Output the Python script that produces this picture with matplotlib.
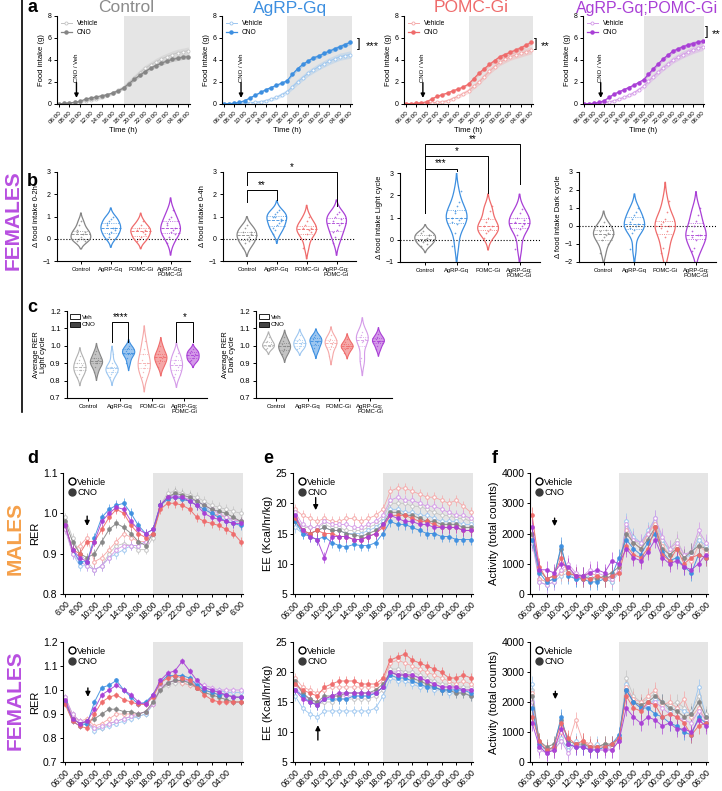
import numpy as np
import matplotlib
matplotlib.use("Agg")
import matplotlib.pyplot as plt
from matplotlib.lines import Line2D
from matplotlib.patches import Patch

plt.rcParams['font.family'] = ['Liberation Sans', 'DejaVu Sans']
plt.rcParams['axes.linewidth'] = 0.8

W, H = 722, 791

# ---------------- données ----------------
groups = ["Control", "AgRP-Gq", "POMC-Gi", "AgRP-Gq;POMC-Gi"]
group_ticks = ["Control", "AgRP-Gq", "POMC-Gi", "AgRP-Gq;\nPOMC-Gi"]
dark = ["#858585", "#3d8fe0", "#ef6b6b", "#a93fd6"]
light = ["#c4c4c4", "#9cc6f0", "#f5a8a8", "#d49ae8"]

hours = list(range(25))

# a : prise alimentaire cumulée (g), horaire de 06:00 à 06:00
fi_ctrl_veh = [0, 0.05, 0.1, 0.15, 0.2, 0.3, 0.35, 0.45, 0.6, 0.8, 1.0, 1.25, 1.5, 1.95, 2.4, 2.85, 3.25, 3.55, 3.85, 4.1, 4.3, 4.5, 4.65, 4.75, 4.85]
fi_ctrl_cno = [0, 0.05, 0.1, 0.15, 0.25, 0.45, 0.55, 0.65, 0.75, 0.85, 1.0, 1.2, 1.45, 1.85, 2.25, 2.6, 2.95, 3.25, 3.5, 3.7, 3.9, 4.05, 4.15, 4.25, 4.3]
fi_agrp_veh = [0, 0.03, 0.06, 0.08, 0.1, 0.12, 0.15, 0.2, 0.3, 0.45, 0.6, 0.85, 1.1, 1.55, 2.0, 2.4, 2.8, 3.1, 3.4, 3.65, 3.9, 4.1, 4.3, 4.4, 4.5]
fi_agrp_cno = [0, 0.03, 0.06, 0.15, 0.3, 0.55, 0.8, 1.05, 1.3, 1.5, 1.7, 1.9, 2.1, 2.7, 3.2, 3.6, 3.9, 4.2, 4.35, 4.6, 4.8, 5.0, 5.2, 5.4, 5.6]
fi_pomc_veh = [0, 0.03, 0.06, 0.08, 0.1, 0.12, 0.15, 0.2, 0.3, 0.5, 0.7, 0.95, 1.2, 1.6, 2.0, 2.5, 3.0, 3.4, 3.8, 4.05, 4.3, 4.45, 4.6, 4.75, 4.9]
fi_pomc_cno = [0, 0.03, 0.06, 0.1, 0.2, 0.45, 0.7, 0.85, 1.0, 1.2, 1.35, 1.55, 1.8, 2.3, 2.8, 3.2, 3.6, 3.95, 4.3, 4.5, 4.7, 4.9, 5.1, 5.35, 5.6]
fi_pg_veh = [0, 0.03, 0.06, 0.1, 0.15, 0.2, 0.3, 0.45, 0.6, 0.8, 1.0, 1.3, 1.6, 2.05, 2.5, 2.9, 3.3, 3.65, 4.0, 4.25, 4.5, 4.7, 4.9, 5.05, 5.2]
fi_pg_cno = [0, 0.03, 0.06, 0.15, 0.3, 0.6, 0.9, 1.1, 1.3, 1.5, 1.7, 1.95, 2.2, 2.7, 3.2, 3.65, 4.1, 4.45, 4.8, 5.0, 5.2, 5.35, 5.5, 5.6, 5.7]
fi_sem = [0.02, 0.03, 0.05, 0.07, 0.09, 0.1, 0.12, 0.14, 0.15, 0.17, 0.19, 0.2, 0.22, 0.24, 0.26, 0.27, 0.28, 0.29, 0.3, 0.31, 0.32, 0.32, 0.33, 0.33, 0.34]
fi_veh = [fi_ctrl_veh, fi_agrp_veh, fi_pomc_veh, fi_pg_veh]
fi_cno = [fi_ctrl_cno, fi_agrp_cno, fi_pomc_cno, fi_pg_cno]

# b : delta prise alimentaire (CNO - Veh), par souris
b_0_2h = [[-0.1, 0.0, 0.1, 0.2, 0.3, 0.3, 0.6, 0.8, 0.0, -0.1, 0.4],
          [0.0, 0.2, 0.3, 0.5, 0.5, 0.6, 0.8, 0.9, 1.0, 0.4, 0.7, 0.1],
          [-0.1, 0.0, 0.1, 0.3, 0.4, 0.4, 0.5, 0.6, 0.8, 0.2],
          [-0.2, 0.1, 0.3, 0.4, 0.5, 0.6, 0.9, 1.0, 1.3, 0.2, 0.7]]
b_0_4h = [[-0.4, -0.2, 0.0, 0.1, 0.2, 0.3, 0.5, 0.6, -0.1, 0.3],
          [0.2, 0.4, 0.6, 0.7, 0.8, 1.0, 1.1, 1.2, 1.3, 0.9, 0.5, 1.0],
          [-0.4, 0.0, 0.2, 0.4, 0.5, 0.5, 0.6, 0.8, 1.0, 0.3],
          [-0.2, 0.1, 0.4, 0.6, 0.7, 0.8, 1.0, 1.1, 1.2, 0.9, 0.3]]
b_light = [[-0.3, -0.1, 0.0, 0.1, 0.2, 0.3, 0.4, 0.0, -0.2, 0.2],
           [-0.3, 0.3, 0.7, 0.9, 1.0, 1.0, 1.2, 1.5, 1.7, 2.2, 0.8, 1.3],
           [0.1, 0.3, 0.4, 0.5, 0.6, 0.6, 0.8, 1.0, 1.3, 1.5],
           [-0.4, 0.2, 0.5, 0.6, 0.7, 0.8, 1.0, 1.2, 1.4, 0.9]]
b_dark = [[-1.5, -0.8, -0.6, -0.5, -0.4, -0.3, 0.0, 0.2, -0.2, -1.0],
          [-1.3, -0.4, -0.2, 0.0, 0.1, 0.2, 0.4, 0.6, 0.8, 1.0, -0.1],
          [-1.5, -1.2, -0.6, -0.3, 0.0, 0.1, 0.2, 0.4, 0.8, 1.4, -0.1],
          [-1.4, -1.2, -0.8, -0.5, -0.5, -0.3, 0.0, 0.3, 0.6, 1.0, -0.6]]

# c : RER moyen, Veh puis CNO pour chaque génotype
rer_light = [[0.82, 0.84, 0.86, 0.88, 0.89, 0.90, 0.92, 0.94, 0.86],
             [0.85, 0.88, 0.90, 0.91, 0.92, 0.93, 0.95, 0.97, 0.90],
             [0.82, 0.84, 0.85, 0.86, 0.87, 0.87, 0.88, 0.90, 0.95],
             [0.90, 0.93, 0.95, 0.96, 0.96, 0.97, 0.98, 0.99, 1.00],
             [0.82, 0.85, 0.87, 0.89, 0.90, 0.92, 0.95, 0.98, 1.03],
             [0.88, 0.90, 0.92, 0.93, 0.94, 0.95, 0.97, 1.00],
             [0.82, 0.84, 0.86, 0.88, 0.89, 0.90, 0.92, 0.94, 0.96],
             [0.91, 0.92, 0.93, 0.94, 0.95, 0.96, 0.97, 0.98]]
rer_dark = [[0.98, 0.99, 1.00, 1.00, 1.01, 1.02, 1.03, 1.05],
            [0.95, 0.97, 0.98, 1.00, 1.00, 1.01, 1.03, 1.05],
            [0.98, 0.99, 1.00, 1.01, 1.02, 1.03, 1.04, 1.06],
            [0.97, 0.99, 1.01, 1.02, 1.03, 1.04, 1.05, 1.06],
            [0.94, 0.98, 1.00, 1.01, 1.02, 1.03, 1.04, 1.06],
            [0.96, 0.98, 0.99, 1.00, 1.00, 1.01, 1.02, 1.04],
            [0.91, 0.93, 1.02, 1.03, 1.04, 1.05, 1.06, 1.08],
            [0.98, 1.00, 1.02, 1.03, 1.03, 1.04, 1.05, 1.07]]

# d-f : calorimétrie, valeurs horaires 06:00 -> 06:00 (Control, AgRP-Gq, POMC-Gi, AgRP-Gq;POMC-Gi)
m_rer_cno = [[0.98, 0.93, 0.90, 0.89, 0.90, 0.93, 0.96, 0.975, 0.965, 0.95, 0.93, 0.92, 0.95, 1.02, 1.04, 1.05, 1.045, 1.04, 1.03, 1.02, 1.01, 1.005, 1.0, 0.99, 0.98],
             [0.97, 0.91, 0.88, 0.88, 0.94, 0.99, 1.01, 1.02, 1.025, 1.0, 0.97, 0.95, 0.96, 1.02, 1.035, 1.04, 1.035, 1.03, 1.02, 1.01, 1.0, 0.99, 0.98, 0.975, 0.97],
             [0.97, 0.91, 0.90, 0.93, 0.93, 0.96, 0.99, 1.01, 1.0, 0.97, 0.95, 0.94, 0.95, 1.01, 1.025, 1.025, 1.02, 1.01, 0.99, 0.98, 0.975, 0.97, 0.96, 0.95, 0.93],
             [0.97, 0.91, 0.89, 0.88, 0.93, 0.98, 1.0, 1.015, 1.01, 0.98, 0.96, 0.95, 0.96, 1.02, 1.04, 1.04, 1.04, 1.03, 1.02, 1.0, 0.99, 0.985, 0.98, 0.975, 0.975]]
m_rer_veh = [[0.99, 0.94, 0.90, 0.88, 0.86, 0.87, 0.90, 0.92, 0.925, 0.92, 0.91, 0.91, 0.94, 1.02, 1.05, 1.055, 1.05, 1.045, 1.04, 1.03, 1.02, 1.015, 1.01, 1.005, 1.0],
             [0.97, 0.90, 0.87, 0.87, 0.86, 0.87, 0.89, 0.90, 0.91, 0.92, 0.92, 0.93, 0.95, 1.02, 1.04, 1.045, 1.04, 1.035, 1.03, 1.02, 1.0, 0.995, 0.99, 0.98, 0.98],
             [0.97, 0.91, 0.92, 0.94, 0.88, 0.89, 0.91, 0.93, 0.95, 0.94, 0.93, 0.93, 0.95, 1.02, 1.035, 1.04, 1.035, 1.03, 1.02, 1.01, 1.0, 0.995, 0.99, 0.985, 0.98],
             [0.96, 0.90, 0.88, 0.87, 0.86, 0.87, 0.89, 0.91, 0.92, 0.92, 0.92, 0.93, 0.95, 1.02, 1.04, 1.045, 1.04, 1.035, 1.03, 1.02, 1.01, 1.0, 0.99, 0.985, 0.98]]
m_ee_cno = [[17, 15.5, 15, 15.5, 16, 15.5, 15.5, 15, 14.8, 14.5, 15, 15.5, 16.5, 18.5, 18.5, 18, 18, 17.5, 17, 17, 16.5, 16.5, 16.5, 16, 16],
            [17, 15, 14.5, 14.0, 14.5, 13.5, 13.0, 12.8, 13.2, 13.0, 13.0, 13.5, 15.0, 17.0, 16.5, 16.5, 16.0, 15.5, 15.0, 15.0, 14.5, 14.5, 14.0, 14.0, 14.0],
            [17.5, 15.5, 15, 15.5, 15, 15, 14.5, 14.5, 14, 14, 14.5, 15, 16, 18, 18, 18, 17.5, 17, 17, 16.5, 16, 16, 16, 15.5, 15.5],
            [18, 15.5, 14.5, 14, 11, 14.5, 14.5, 14.5, 14, 14, 14.5, 15, 16.5, 18, 17.5, 17, 17, 16.5, 16.5, 16, 16, 16, 16, 15.5, 15.5]]
m_ee_veh = [[18, 16, 16, 16, 16.5, 16, 16, 15.5, 15.5, 15.5, 16, 16.5, 17.5, 20, 20, 20, 19.5, 19.5, 19, 18.5, 18, 18, 17.5, 17.5, 17],
            [16, 15, 15, 15.5, 16, 15.5, 15.5, 15, 15, 15, 15.5, 16, 17, 19, 19, 18.5, 18.5, 18, 18, 17.5, 17, 17, 17, 16.5, 16.5],
            [19, 18, 17.5, 17, 17.5, 17, 17, 17.5, 17.5, 17, 17.5, 18, 19, 22, 22.5, 22.5, 22, 21.5, 21, 21, 20.5, 20, 20.5, 19.5, 18.5],
            [18.5, 16.5, 16, 16, 17, 16.5, 16.5, 16.5, 16, 16, 16.5, 17, 18, 20.5, 21, 20.5, 20.5, 20, 19.5, 19.5, 19, 18.5, 18, 18, 17.5]]
m_act_cno = [[2000, 800, 500, 600, 1500, 700, 600, 600, 500, 500, 600, 700, 900, 2000, 1700, 1500, 1800, 2200, 1500, 1300, 1500, 1200, 1400, 1600, 1500],
             [1800, 700, 400, 500, 1600, 600, 500, 500, 400, 400, 500, 600, 1200, 1800, 1500, 1300, 1700, 2000, 1400, 1100, 1200, 900, 700, 1300, 1200],
             [2600, 900, 500, 600, 1200, 700, 600, 500, 500, 600, 500, 600, 700, 1600, 1300, 1200, 1500, 2200, 1300, 1100, 1500, 1000, 1200, 1300, 1200],
             [2200, 800, 800, 700, 1000, 900, 600, 600, 700, 800, 700, 1100, 1000, 1500, 1200, 1100, 1400, 1800, 1200, 1000, 1100, 900, 800, 1000, 1300]]
m_act_veh = [[1800, 500, 400, 500, 700, 800, 600, 500, 700, 600, 500, 400, 800, 2200, 1800, 1600, 2000, 2400, 1700, 1500, 1800, 1300, 1400, 1900, 1400],
             [1900, 400, 300, 400, 600, 700, 500, 500, 600, 500, 500, 400, 700, 2400, 1900, 1700, 2100, 2500, 1800, 1400, 1600, 1200, 1300, 1800, 1600],
             [2000, 500, 400, 500, 700, 900, 600, 600, 700, 600, 500, 500, 700, 2100, 1700, 1500, 2000, 2300, 1600, 1300, 1600, 1200, 1100, 1600, 1400],
             [1700, 400, 300, 400, 800, 1000, 700, 600, 800, 700, 600, 500, 800, 2300, 1800, 1700, 2000, 2500, 1900, 1500, 1700, 1300, 1400, 2100, 1700]]

f_rer_cno = [[0.95, 0.88, 0.86, 0.87, 0.88, 0.90, 0.92, 0.92, 0.91, 0.91, 0.90, 0.91, 0.95, 1.0, 1.03, 1.04, 1.04, 1.03, 1.01, 0.99, 0.98, 0.97, 0.96, 0.95, 0.95],
             [0.95, 0.87, 0.85, 0.86, 0.95, 1.01, 1.02, 1.04, 1.0, 0.97, 0.94, 0.95, 0.98, 1.03, 1.06, 1.06, 1.06, 1.05, 1.02, 1.0, 0.99, 0.98, 0.98, 0.97, 0.97],
             [0.94, 0.87, 0.85, 0.84, 0.90, 0.95, 0.97, 0.98, 0.96, 0.95, 0.94, 0.94, 0.97, 1.03, 1.05, 1.06, 1.05, 1.04, 1.01, 0.98, 0.96, 0.95, 0.95, 0.95, 0.95],
             [0.96, 0.88, 0.86, 0.87, 0.92, 0.98, 1.0, 1.02, 1.0, 0.98, 0.95, 0.94, 0.98, 1.04, 1.07, 1.08, 1.12, 1.08, 1.04, 1.01, 1.0, 0.99, 0.98, 0.97, 0.97]]
f_rer_veh = [[0.97, 0.90, 0.87, 0.86, 0.84, 0.84, 0.86, 0.87, 0.88, 0.89, 0.89, 0.90, 0.94, 1.0, 1.02, 1.03, 1.03, 1.02, 1.01, 1.0, 0.99, 0.985, 0.98, 0.975, 0.97],
             [0.96, 0.89, 0.86, 0.86, 0.83, 0.84, 0.85, 0.86, 0.87, 0.88, 0.89, 0.90, 0.94, 1.01, 1.03, 1.04, 1.04, 1.03, 1.02, 1.01, 1.0, 1.0, 0.99, 0.99, 0.99],
             [0.96, 0.89, 0.87, 0.88, 0.85, 0.86, 0.88, 0.90, 0.90, 0.90, 0.90, 0.91, 0.94, 1.01, 1.03, 1.04, 1.03, 1.02, 1.01, 1.0, 0.99, 0.98, 0.98, 0.97, 0.97],
             [0.97, 0.90, 0.87, 0.87, 0.84, 0.85, 0.86, 0.87, 0.88, 0.89, 0.90, 0.91, 0.94, 1.01, 1.03, 1.04, 1.04, 1.04, 1.03, 1.02, 1.01, 1.0, 1.0, 1.0, 1.0]]
f_ee_cno = [[18.5, 16.5, 15.5, 15, 16, 16, 16, 16.5, 16.5, 16.5, 16.5, 17, 18, 20, 19.5, 19.5, 19, 18.5, 18, 17.5, 17, 17, 16.5, 16.5, 16],
            [17, 16, 15, 14.5, 15.5, 15.5, 15.5, 15.5, 16, 16, 16, 16.5, 17.5, 19.5, 19, 19, 18.5, 18, 17.5, 17.5, 17, 17, 17, 17, 16.5],
            [18, 17, 16.5, 16, 17.5, 18, 18.5, 18.5, 18.5, 18, 18, 18, 19, 22, 22.5, 23, 22, 21.5, 21, 20.5, 20, 19, 19, 19.5, 19],
            [17, 15.5, 15, 14.5, 15.5, 16, 16.5, 16.5, 16.5, 16.5, 16.5, 16.5, 17.5, 20, 19.5, 19.5, 19.5, 19, 18.5, 18, 17.5, 17.5, 17.5, 17, 17]]
f_ee_veh = [[18, 16.5, 15.5, 14.5, 15, 15, 15.5, 15.5, 15.5, 15.5, 15.5, 16, 17, 20.5, 20.5, 20, 20, 19.5, 19, 18.5, 18, 18, 17.5, 17.5, 17.5],
            [16, 14, 13, 12.5, 13.5, 13.5, 13.5, 13.5, 13.5, 13.5, 13.5, 14, 16, 19, 18.5, 18.5, 18, 17.5, 17.5, 17, 17, 16.5, 16.5, 16.5, 16],
            [19, 17.5, 17, 16.5, 17, 17.5, 17.5, 17.5, 17.5, 17.5, 17.5, 17.5, 18.5, 21.5, 22, 21.5, 21, 20.5, 20, 19.5, 19, 18.5, 18, 18.5, 18],
            [17.5, 16, 15.5, 15, 15.5, 16, 16, 16, 16, 16, 16, 16.5, 17.5, 20, 20, 19.5, 19.5, 19, 18.5, 18, 17.5, 17.5, 17, 17, 17]]
f_act_cno = [[2200, 700, 500, 600, 1400, 700, 600, 600, 500, 500, 600, 600, 800, 2400, 2000, 1900, 2000, 2200, 2000, 1800, 1700, 1500, 1600, 2000, 1500],
             [1800, 600, 400, 500, 1500, 600, 500, 500, 400, 400, 500, 600, 900, 2400, 2000, 1800, 1800, 1600, 1500, 1300, 1200, 1000, 900, 1500, 1300],
             [1500, 700, 400, 500, 1300, 800, 600, 700, 500, 500, 500, 600, 800, 2200, 1800, 1700, 2000, 1900, 1500, 1600, 1500, 1300, 900, 1200, 1300],
             [1300, 500, 300, 400, 1100, 600, 500, 500, 400, 400, 400, 400, 700, 1800, 1500, 1300, 1500, 1400, 1200, 1300, 1100, 1100, 1000, 1400, 1200]]
f_act_veh = [[2400, 500, 400, 400, 700, 500, 600, 700, 600, 500, 600, 500, 700, 2800, 2200, 2000, 2100, 2300, 2000, 1900, 2000, 1800, 1700, 2200, 1600],
             [2600, 500, 300, 500, 800, 400, 700, 500, 500, 600, 500, 500, 800, 2600, 2000, 1800, 1900, 2100, 2000, 1700, 1800, 1700, 1600, 2500, 1500],
             [2300, 600, 400, 400, 1000, 600, 1400, 700, 600, 500, 600, 500, 800, 2500, 2100, 2000, 2200, 2400, 1900, 2000, 1800, 2100, 1500, 1800, 1400],
             [2000, 400, 300, 400, 700, 300, 600, 500, 500, 400, 500, 400, 700, 2400, 2000, 1800, 1900, 2000, 1800, 1600, 1500, 1400, 1300, 1700, 1400]]

tick_hours = list(range(0, 25, 2))
lab_0 = ["06:00", "08:00", "10:00", "12:00", "14:00", "16:00", "18:00", "20:00", "22:00", "00:00", "02:00", "04:00", "06:00"]
lab_short = ["6:00", "8:00", "10:00", "12:00", "14:00", "16:00", "18:00", "20:00", "22:00", "0:00", "2:00", "4:00", "6:00"]
lab_no_end = lab_0[:-1] + [""]

SHADE = "#e5e5e5"

fig = plt.figure(figsize=(W / 100, H / 100), dpi=100)


def add_ax(l, t, r, b):
    ax = fig.add_axes([l / W, 1 - b / H, (r - l) / W, (b - t) / H])
    ax.spines['top'].set_visible(False)
    ax.spines['right'].set_visible(False)
    return ax


def ftext(x, y, s, **kw):
    fig.text(x / W, 1 - y / H, s, **kw)


def time_axis(ax, labels, fs):
    ax.set_xlim(-0.3, 24.3)
    ax.set_xticks(tick_hours)
    ax.set_xticklabels(labels, rotation=45, ha='right', rotation_mode='anchor', fontsize=fs)
    ax.tick_params(length=2.5, width=0.7, pad=1.5)


def violin(ax, pos, vals, color, hw, face='none', lw=0.9, ms=1.5):
    v = np.asarray(vals, float)
    bw = v.std(ddof=1) * len(v) ** -0.2
    y = np.linspace(v.min() - 2 * bw, v.max() + 2 * bw, 200)
    d = np.exp(-0.5 * ((y[:, None] - v[None, :]) / bw) ** 2).sum(1)
    d = d / d.max() * hw
    ax.fill_betweenx(y, pos - d, pos + d, facecolor=face, edgecolor=color, lw=lw)
    for q, ls in zip(np.percentile(v, [25, 50, 75]), [':', '--', ':']):
        w = np.interp(q, y, d)
        ax.plot([pos - w, pos + w], [q, q], color=color, lw=0.6, ls=ls)
    offs = ((np.arange(len(v)) % 5) - 2) * hw * 0.2
    ax.scatter(pos + offs, v, s=ms, color=color, alpha=0.8, lw=0, zorder=3)


def bracket(ax, x1, x2, y, y1, y2, txt, fs=7):
    ax.plot([x1, x1, x2, x2], [y1, y, y, y2], color='k', lw=0.7, clip_on=False)
    ax.text((x1 + x2) / 2, y, txt, ha='center', va='bottom', fontsize=fs, clip_on=False)


# ---------------- a ----------------
a_pos = [(57, 190), (222, 352), (404, 533), (583, 704)]
for i, (l, r) in enumerate(a_pos):
    ax = add_ax(l, 16, r, 104)
    ax.axvspan(12, 24.3, color=SHADE, lw=0, zorder=0)
    veh = np.array(fi_veh[i]); cno = np.array(fi_cno[i]); sem = np.array(fi_sem)
    ax.fill_between(hours, veh - sem, veh + sem, color=light[i], alpha=0.35, lw=0)
    ax.fill_between(hours, cno - sem * 0.6, cno + sem * 0.6, color=dark[i], alpha=0.3, lw=0)
    ax.plot(hours, veh, '-o', color=light[i], mfc='white', mec=light[i], ms=2.2, lw=0.7, mew=0.6, label="Vehicle")
    ax.plot(hours, cno, '-o', color=dark[i], ms=2.2, lw=0.9, label="CNO")
    ax.set_ylim(0, 8)
    ax.set_yticks([0, 2, 4, 6, 8])
    time_axis(ax, lab_0, 4.5)
    ax.tick_params(axis='y', labelsize=5)
    ax.set_ylabel("Food intake (g)", fontsize=5.5, labelpad=2)
    ax.set_xlabel("Time (h)", fontsize=5.5, labelpad=2)
    ax.legend(loc='upper left', frameon=False, fontsize=4.8, handlelength=1.6, borderaxespad=0.2, labelspacing=0.3)
    ax.annotate("", xy=(3.3, 0.3), xytext=(3.3, 2.2),
                arrowprops=dict(arrowstyle='-|>', color='k', lw=1, mutation_scale=6))
    ax.text(3.3, 3.3, "CNO / Veh", rotation=90, ha='center', va='center', fontsize=4.3)

for i, (x, fs) in enumerate([(126, 12.5), (290, 12.5), (471, 12.5), (647, 11.5)]):
    ftext(x, 12.5, groups[i], color=dark[i] if i else "#8c8c8c", fontsize=fs, ha='center', va='baseline')

ftext(359, 44, "]", fontsize=9, va='center', ha='center')
ftext(372, 46, "***", fontsize=8, va='center', ha='center')
ftext(536, 44, "]", fontsize=9, va='center', ha='center')
ftext(545, 46, "**", fontsize=8, va='center', ha='center')
ftext(707, 32, "]", fontsize=9, va='center', ha='center')
ftext(716, 34, "**", fontsize=8, va='center', ha='center')

# ---------------- b ----------------
b_data = [b_0_2h, b_0_4h, b_light, b_dark]
b_labels = ["Δ food intake 0-2h", "Δ food intake 0-4h", "Δ food intake Light cycle", "Δ food intake Dark cycle"]
b_pos = [(57, 190, 172, 261), (223, 356, 172, 261), (400, 540, 173, 262), (579, 716, 172, 262)]
b_axes = []
for k, (l, r, t, bt) in enumerate(b_pos):
    ax = add_ax(l, t, r, bt)
    for i in range(4):
        violin(ax, i, b_data[k][i], dark[i], 0.33)
    ax.axhline(0, color='k', ls=':', lw=0.8, zorder=0)
    ax.set_xlim(-0.8, 3.65)
    if k == 3:
        ax.set_ylim(-2, 3); ax.set_yticks([-2, -1, 0, 1, 2, 3])
    else:
        ax.set_ylim(-1, 3); ax.set_yticks([-1, 0, 1, 2, 3])
    ax.set_xticks(range(4))
    ax.set_xticklabels(group_ticks, fontsize=4.2, linespacing=0.9)
    ax.tick_params(length=2.5, width=0.7, pad=2, labelsize=5)
    ax.tick_params(axis='x', labelsize=4.2)
    ax.set_ylabel(b_labels[k], fontsize=5.5, labelpad=2)
    b_axes.append(ax)

bracket(b_axes[1], 0, 3, 3.0, 2.4, 1.45, "*")
bracket(b_axes[1], 0, 1, 2.2, 1.65, 1.75, "**")
bracket(b_axes[2], 0, 3, 4.3, 1.2, 2.5, "**")
bracket(b_axes[2], 0, 2, 3.75, 1.2, 2.1, "*")
bracket(b_axes[2], 0, 1, 3.2, 1.2, 3.1, "***")

# ---------------- c ----------------
c_data = [rer_light, rer_dark]
c_labels = ["Average RER\nLight cycle", "Average RER\nDark cycle"]
c_pos = [(67, 207), (256, 392)]
c_axes = []
for k, (l, r) in enumerate(c_pos):
    ax = add_ax(l, 311, r, 398)
    for j in range(8):
        g = j // 2
        if j % 2 == 0:
            violin(ax, j, c_data[k][j], light[g] if g else "#b0b0b0", 0.38, lw=0.8, ms=1.0)
        else:
            violin(ax, j, c_data[k][j], dark[g], 0.38, face=light[g], lw=0.8, ms=1.0)
    ax.set_xlim(-0.8, 7.9)
    ax.set_ylim(0.7, 1.2)
    ax.set_yticks([0.7, 0.8, 0.9, 1.0, 1.1, 1.2])
    ax.set_xticks([0.5, 2.5, 4.5, 6.5])
    ax.set_xticklabels(group_ticks, fontsize=4.3, linespacing=0.9)
    ax.tick_params(length=2.5, width=0.7, pad=2, labelsize=5.5)
    ax.tick_params(axis='x', labelsize=4.3)
    ax.set_ylabel(c_labels[k], fontsize=5.5, labelpad=2, linespacing=1.0)
    ax.legend(handles=[Patch(facecolor='white', edgecolor='k', lw=0.6, label="Veh"),
                       Patch(facecolor='#444444', edgecolor='k', lw=0.6, label="CNO")],
              loc='upper left', frameon=False, fontsize=4.5, handlelength=1.6, handleheight=0.9,
              borderaxespad=0.1, labelspacing=0.3, handletextpad=0.3)
    c_axes.append(ax)

bracket(c_axes[0], 2, 3, 1.137, 1.02, 1.02, "****")
bracket(c_axes[0], 6, 7, 1.137, 1.02, 1.02, "*")

# ---------------- d-f ----------------
def ts_panel(ax, veh, cno, err, ylim, yticks, ylabel, labels, arrow):
    ax.axvspan(12, 24.3, color=SHADE, lw=0, zorder=0)
    for i in range(4):
        ax.errorbar(hours, veh[i], yerr=err, fmt='-o', color=light[i], mfc='white', mec=light[i],
                    ms=2.6, lw=0.6, mew=0.7, elinewidth=0.5, capsize=0)
    for i in range(4):
        ax.errorbar(hours, cno[i], yerr=err, fmt='-o', color=dark[i], ms=2.4, lw=0.7,
                    elinewidth=0.5, capsize=0, alpha=0.9)
    ax.set_ylim(*ylim)
    ax.set_yticks(yticks)
    time_axis(ax, labels, 6.2)
    ax.tick_params(axis='y', labelsize=7.5)
    ax.set_ylabel(ylabel, fontsize=8, labelpad=2)
    ax.legend(handles=[Line2D([], [], marker='o', ls='', mfc='white', mec='k', ms=5, mew=1, label="Vehicle"),
                       Line2D([], [], marker='o', ls='', mfc='#3a3a3a', mec='#3a3a3a', ms=5, label="CNO")],
              loc='upper left', frameon=False, fontsize=6.5, handletextpad=0.1, borderaxespad=0.1,
              labelspacing=0.15, handlelength=1.0)
    x, y0, y1 = arrow
    ax.annotate("", xy=(x, y1), xytext=(x, y0),
                arrowprops=dict(arrowstyle='-|>', color='k', lw=1, mutation_scale=7))


rows = [(473, 594), (642, 762)]
cols = [(63, 243), (293, 473), (530, 708)]
male = [(m_rer_veh, m_rer_cno, 0.012, (0.8, 1.1), [0.8, 0.9, 1.0, 1.1], "RER", lab_short, (3, 1.0, 0.962)),
        (m_ee_veh, m_ee_cno, 0.9, (5, 25), [5, 10, 15, 20, 25], "EE (Kcal/hr/kg)", lab_0, (2.8, 21.4, 18.4)),
        (m_act_veh, m_act_cno, 280, (0, 4000), [0, 1000, 2000, 3000, 4000], "Activity (total counts)", lab_0, (3.1, 2600, 2150))]
female = [(f_rer_veh, f_rer_cno, 0.012, (0.7, 1.2), [0.7, 0.8, 0.9, 1.0, 1.1, 1.2], "RER", lab_no_end, (3.1, 1.02, 0.96)),
          (f_ee_veh, f_ee_cno, 0.9, (5, 25), [5, 10, 15, 20, 25], "EE (Kcal/hr/kg)", lab_0, (3.1, 8.2, 11.6)),
          (f_act_veh, f_act_cno, 280, (0, 4000), [0, 1000, 2000, 3000, 4000], "Activity (total counts)", lab_0, (3.2, 2450, 2000))]
for (t, b), specs in zip(rows, [male, female]):
    for (l, r), sp in zip(cols, specs):
        ax = add_ax(l, t, r, b)
        ts_panel(ax, *sp)

# ---------------- étiquettes ----------------
for s, x, y in [("a", 32, 8), ("b", 32, 181), ("c", 32, 308), ("d", 33, 458), ("e", 268, 458), ("f", 495, 458)]:
    ftext(x, y, s, fontsize=13, fontweight='bold', ha='center', va='center')

ftext(13, 220, "FEMALES", color="#b84fe0", fontsize=15, fontweight='bold', rotation=90, ha='center', va='center')
ftext(15, 538, "MALES", color="#f5a04a", fontsize=15, fontweight='bold', rotation=90, ha='center', va='center')
ftext(15, 700, "FEMALES", color="#b84fe0", fontsize=15, fontweight='bold', rotation=90, ha='center', va='center')

fig.add_artist(Line2D([22 / W, 22 / W], [1, 1 - 412 / H], color='k', lw=1.2))

fig.savefig("out.png", dpi=100)
